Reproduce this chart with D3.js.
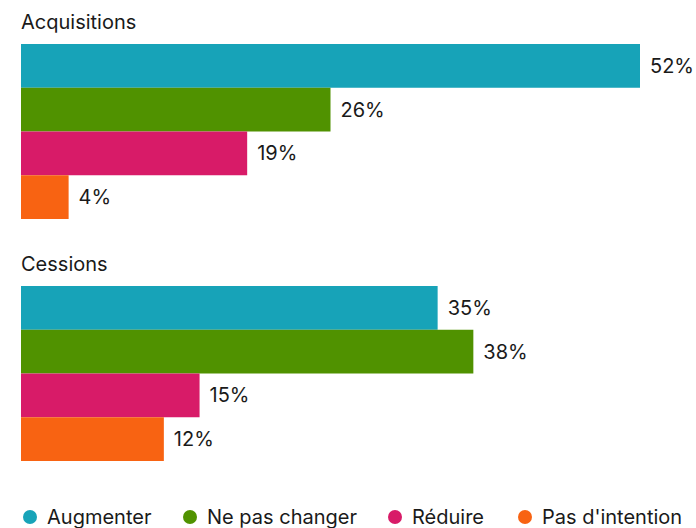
<!DOCTYPE html>
<html>
<head>
<meta charset="utf-8">
<script src="https://cdn.jsdelivr.net/npm/d3@7"></script>
<style>
  html, body { margin: 0; padding: 0; background: #fff; }
  svg { display: block; font-family: Inter, "Noto Sans", sans-serif; }
</style>
</head>
<body>
<svg id="chart" width="696" height="528"></svg>
<script>
// Groups, series and their values (percent)
const groups = ["Acquisitions", "Cessions"];
const series = ["Augmenter", "Ne pas changer", "Réduire", "Pas d'intention"];
const acquisitions = [52, 26, 19, 4];
const cessions = [35, 38, 15, 12];
const colors = ["#17a3b8", "#509200", "#d81b68", "#f86312"];

const values = [acquisitions, cessions];

const svg = d3.select("#chart");
const textColor = "#1a1a1a";

const x = d3.scaleLinear().domain([0, 52]).range([21, 640]);
const color = d3.scaleOrdinal().domain(series).range(colors);

// Vertical layout of each group block
const groupTop = d3.scalePoint().domain(groups).range([44, 286]);
const y = d3.scaleBand().domain(series).range([0, 175]).padding(0);

groups.forEach((g, gi) => {
  const top = groupTop(g);
  const block = svg.append("g").attr("transform", `translate(0,${top})`);

  block.append("text")
    .attr("x", 21)
    .attr("y", -15)
    .attr("font-size", 20)
    .attr("fill", textColor)
    .text(g);

  const rows = block.selectAll("g.row")
    .data(series.map((s, i) => ({ s, v: values[gi][i] })))
    .join("g").attr("class", "row");

  rows.append("rect")
    .attr("x", x(0))
    .attr("y", d => y(d.s))
    .attr("width", d => x(d.v) - x(0))
    .attr("height", y.bandwidth())
    .attr("fill", d => color(d.s));

  rows.append("text")
    .attr("x", d => x(d.v) + 10)
    .attr("y", d => y(d.s) + y.bandwidth() / 2)
    .attr("dy", "0.35em")
    .attr("font-size", 20)
    .attr("fill", textColor)
    .text(d => d.v + "%");
});

// Legend
const legendX = [30, 190, 395, 525];
const legend = svg.append("g").attr("transform", "translate(0,517)");
const items = legend.selectAll("g")
  .data(series)
  .join("g")
  .attr("transform", (d, i) => `translate(${legendX[i]},0)`);
items.append("circle").attr("r", 7).attr("fill", d => color(d));
items.append("text")
  .attr("x", 17)
  .attr("dy", "0.35em")
  .attr("font-size", 20)
  .attr("fill", textColor)
  .text(d => d);
</script>
</body>
</html>
